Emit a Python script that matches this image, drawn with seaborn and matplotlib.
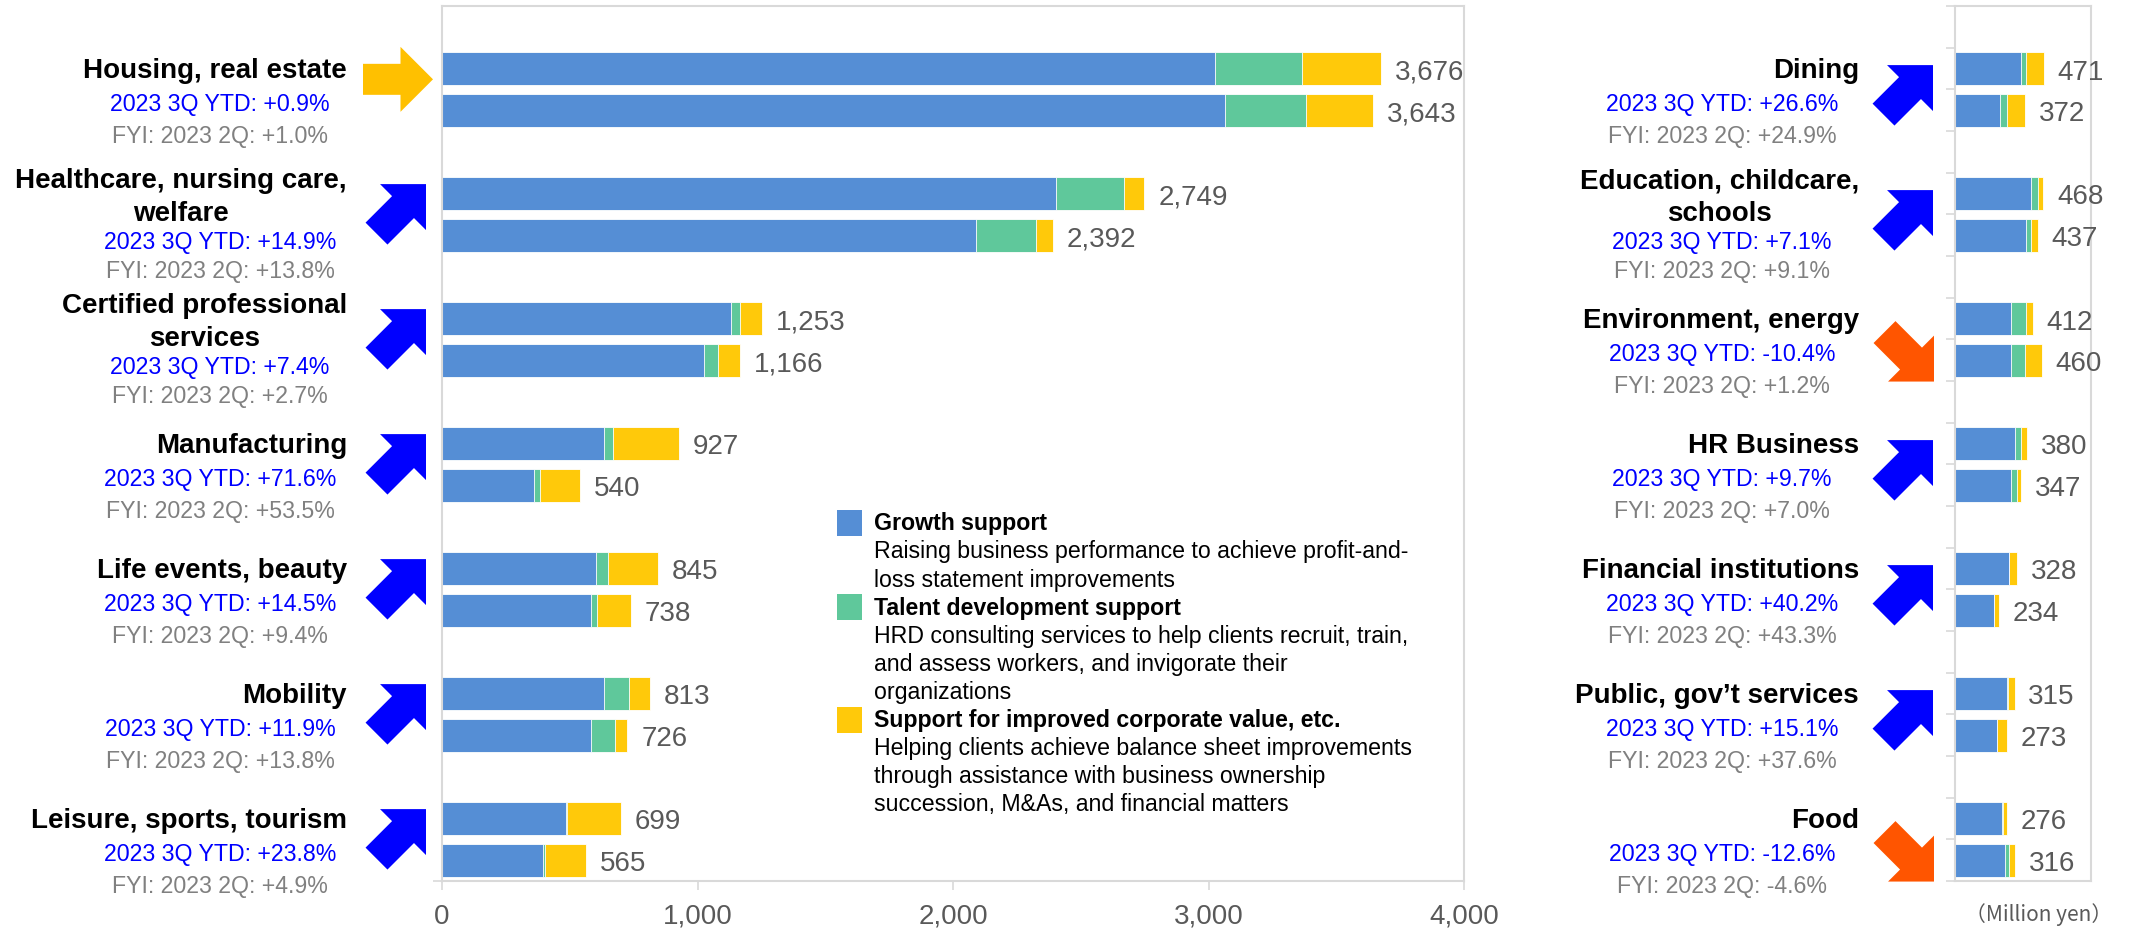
import numpy as np
import pandas as pd
import matplotlib
matplotlib.use("Agg")
import matplotlib.pyplot as plt
import matplotlib.transforms as mtransforms
from matplotlib.patches import Polygon, Rectangle
from matplotlib.ticker import FuncFormatter
import seaborn as sns

# ---------------- data ----------------
series_names = ["Growth support", "Talent development support",
                "Support for improved corporate value, etc."]
series_desc = [
    "Raising business performance to achieve profit-and-\nloss statement improvements",
    "HRD consulting services to help clients recruit, train,\nand assess workers, and invigorate their\norganizations",
    "Helping clients achieve balance sheet improvements\nthrough assistance with business ownership\nsuccession, M&As, and financial matters",
]

left_industries = ["Housing, real estate", "Healthcare, nursing care,\nwelfare",
                   "Certified professional\nservices", "Manufacturing",
                   "Life events, beauty", "Mobility", "Leisure, sports, tourism"]
left_ytd = ["+0.9%", "+14.9%", "+7.4%", "+71.6%", "+14.5%", "+11.9%", "+23.8%"]
left_2q = ["+1.0%", "+13.8%", "+2.7%", "+53.5%", "+9.4%", "+13.8%", "+4.9%"]
left_total_2023 = [3676, 2749, 1253, 927, 845, 813, 699]
left_total_2022 = [3643, 2392, 1166, 540, 738, 726, 565]
left_growth_2023 = [3025, 2403, 1131, 633, 603, 634, 484]
left_talent_2023 = [339, 268, 36, 35, 47, 98, 7]
left_corp_2023 = [312, 78, 86, 259, 195, 81, 208]
left_growth_2022 = [3063, 2089, 1027, 362, 583, 582, 396]
left_talent_2022 = [319, 235, 53, 22, 23, 96, 8]
left_corp_2022 = [261, 68, 86, 156, 132, 48, 161]

right_industries = ["Dining", "Education, childcare,\nschools", "Environment, energy",
                    "HR Business", "Financial institutions", "Public, gov’t services", "Food"]
right_ytd = ["+26.6%", "+7.1%", "-10.4%", "+9.7%", "+40.2%", "+15.1%", "-12.6%"]
right_2q = ["+24.9%", "+9.1%", "+1.2%", "+7.0%", "+43.3%", "+37.6%", "-4.6%"]
right_total_2023 = [471, 468, 412, 380, 328, 315, 276]
right_total_2022 = [372, 437, 460, 347, 234, 273, 316]
right_growth_2023 = [349, 402, 296, 320, 286, 275, 249]
right_talent_2023 = [26, 39, 79, 32, 2, 5, 6]
right_corp_2023 = [96, 27, 37, 28, 40, 35, 21]
right_growth_2022 = [237, 375, 296, 296, 206, 222, 265]
right_talent_2022 = [38, 25, 74, 32, 0, 0, 23]
right_corp_2022 = [97, 37, 90, 19, 28, 51, 28]

left_ticks = [0, 1000, 2000, 3000, 4000]
right_xmax = 720
unit_label = "（Million yen）"
ytd_prefix = "2023 3Q YTD: "
q2_prefix = "FYI: 2023 2Q: "

# ---------------- style ----------------
BLUE, GREEN, YELLOW = "#558ED5", "#5FC89B", "#FFC90A"
FRAME = "#D9D9D9"
LABEL = "#595959"
W, H, DPI = 2130, 929, 100

sns.set_style("white")
plt.rcParams["font.family"] = ["Liberation Sans", "DejaVu Sans"]

fig = plt.figure(figsize=(W / DPI, H / DPI), dpi=DPI)
fig.patch.set_facecolor("white")
ID = mtransforms.IdentityTransform()


def axes_px(x0, x1, top, bottom):
    return fig.add_axes([x0 / W, (H - bottom) / H, (x1 - x0) / W, (bottom - top) / H])


axL = axes_px(442, 1464, 7, 882)
axR = axes_px(1955, 2091, 7, 882)
N_SLOTS = 21


def panel_df(g23, t23, c23, g22, t22, c22, tot23, tot22):
    rows = []
    for i in range(len(g23)):
        rows.append(dict(pos=1 + 3 * i, growth=g23[i], talent=t23[i], corp=c23[i], total=tot23[i]))
        rows.append(dict(pos=2 + 3 * i, growth=g22[i], talent=t22[i], corp=c22[i], total=tot22[i]))
    df = pd.DataFrame(rows)
    df["upto_talent"] = df["growth"] + df["talent"]
    df["upto_corp"] = df["upto_talent"] + df["corp"]
    return df


def draw_bars(ax, df, xmax):
    for col, colr in [("upto_corp", YELLOW), ("upto_talent", GREEN), ("growth", BLUE)]:
        sns.barplot(data=df, x=col, y="pos", orient="h", native_scale=True, width=0.79,
                    color=colr, saturation=1, edgecolor="white", linewidth=0.6,
                    errorbar=None, ax=ax)
    ax.set_xlim(0, xmax)
    ax.set_ylim(N_SLOTS - 0.5, -0.5)
    ax.set_xlabel("")
    ax.set_ylabel("")
    for s in ax.spines.values():
        s.set_visible(True)
        s.set_color(FRAME)
        s.set_linewidth(1.5)
    for _, r in df.iterrows():
        ax.annotate(f"{int(r['total']):,}", xy=(r["upto_corp"], r["pos"]),
                    xytext=(10, -7.2), textcoords="offset points", ha="left",
                    va="baseline", fontsize=20, color=LABEL, annotation_clip=False)


dfL = panel_df(left_growth_2023, left_talent_2023, left_corp_2023,
               left_growth_2022, left_talent_2022, left_corp_2022,
               left_total_2023, left_total_2022)
dfR = panel_df(right_growth_2023, right_talent_2023, right_corp_2023,
               right_growth_2022, right_talent_2022, right_corp_2022,
               right_total_2023, right_total_2022)
draw_bars(axL, dfL, left_ticks[-1])
draw_bars(axR, dfR, right_xmax)

# ticks
axL.set_xticks(left_ticks)
axL.xaxis.set_major_formatter(FuncFormatter(lambda v, p: f"{int(v):,}"))
axL.tick_params(axis="x", bottom=True, length=6.5, width=1.2, color=FRAME,
                labelsize=20, labelcolor=LABEL, pad=9)
axL.set_yticks([N_SLOTS - 0.5])
axL.tick_params(axis="y", left=True, length=6.5, width=1.2, color=FRAME, labelleft=False)
axR.set_xticks([])
axR.set_yticks(np.arange(-0.5, N_SLOTS, 1.0))
axR.tick_params(axis="y", left=True, length=6.5, width=1.2, color=FRAME, labelleft=False)

# ---------------- group annotations ----------------
FS_T, FS_S = 20, 16.7


def cap_half(fs):
    return 0.716 * fs * DPI / 72 / 2


def gtrans(ax, dy_px):
    blend = mtransforms.blended_transform_factory(ID, ax.transData)
    return blend + mtransforms.Affine2D().translate(0, -dy_px)


ARROW = np.array([(0, 0), (-32.5, 32.5), (-32.5, 15.5), (-70, 15.5),
                  (-70, -15.5), (-32.5, -15.5), (-32.5, -32.5)], dtype=float)


def arrow_for(pct):
    v = float(pct.replace("%", ""))
    if v < 0:
        return -45, "#FF5500", "down"
    if v < 1:
        return 0, "#FFC000", "flat"
    return 45, "#0000FF", "up"


renderer = fig.canvas.get_renderer()


def draw_groups(ax, names, ytd, q2, title_rx, sub_cx, arrow_rx, offsets):
    blend = mtransforms.blended_transform_factory(ID, ax.transData)
    for i, name in enumerate(names):
        yc = 1.5 + 3 * i
        lines = name.split("\n")
        if len(lines) == 1:
            t_offs, ob, og = [-22], 12, 44
        else:
            t_offs, ob, og = [-37, -4], 25, 54
        t1 = fig.text(title_rx, yc, lines[0], transform=gtrans(ax, t_offs[0] + cap_half(FS_T)),
                      ha="right", va="baseline", fontsize=FS_T, fontweight="bold", color="black")
        if len(lines) > 1:
            bb = t1.get_window_extent(renderer)
            cx = (bb.x0 + bb.x1) / 2
            fig.text(cx, yc, lines[1], transform=gtrans(ax, t_offs[1] + cap_half(FS_T)),
                     ha="center", va="baseline", fontsize=FS_T, fontweight="bold", color="black")
        fig.text(sub_cx, yc, ytd_prefix + ytd[i], transform=gtrans(ax, ob + cap_half(FS_S)),
                 ha="center", va="baseline", fontsize=FS_S, color="#0000FF")
        fig.text(sub_cx, yc, q2_prefix + q2[i], transform=gtrans(ax, og + cap_half(FS_S)),
                 ha="center", va="baseline", fontsize=FS_S, color="#808080")
        # trend arrow
        ang, colr, kind = arrow_for(ytd[i])
        th = np.deg2rad(ang)
        R = np.array([[np.cos(th), -np.sin(th)], [np.sin(th), np.cos(th)]])
        v = ARROW @ R.T
        rx = arrow_rx[kind]
        v[:, 0] += rx - v[:, 0].max()
        v[:, 1] -= (v[:, 1].max() + v[:, 1].min()) / 2
        v[:, 1] -= offsets[kind]
        poly = Polygon(v, closed=True, facecolor=colr, edgecolor="none",
                       transform=mtransforms.ScaledTranslation(0, yc, blend))
        fig.add_artist(poly)


draw_groups(axL, left_industries, left_ytd, left_2q, 347, 220,
            {"up": 426, "down": 426, "flat": 433}, {"up": 0, "down": 12, "flat": -10})
draw_groups(axR, right_industries, right_ytd, right_2q, 1859, 1722,
            {"up": 1933, "down": 1934, "flat": 1933}, {"up": 6, "down": 12, "flat": -10})

# ---------------- legend ----------------
leg_sq_x, leg_txt_x, leg_y0, pitch = 837, 874, 522, 28.1
line = 0
for name, desc, colr in zip(series_names, series_desc, [BLUE, GREEN, YELLOW]):
    yc = leg_y0 + pitch * line
    fig.add_artist(Rectangle((leg_sq_x, H - (yc + 2) - 13), 25, 26, transform=ID,
                             facecolor=colr, edgecolor="none"))
    fig.text(leg_txt_x, H - (yc + cap_half(FS_S)), name, transform=ID, ha="left",
             va="baseline", fontsize=FS_S, fontweight="bold", color="black")
    line += 1
    for d in desc.split("\n"):
        yc = leg_y0 + pitch * line
        fig.text(leg_txt_x, H - (yc + cap_half(FS_S)), d, transform=ID, ha="left",
                 va="baseline", fontsize=FS_S, color="black")
        line += 1

fig.text(2112, H - 915, unit_label, transform=ID, ha="right", va="center", fontsize=15,
         color=LABEL, family=["Noto Sans CJK JP", "DejaVu Sans"])

fig.savefig("out.png", dpi=DPI, facecolor="white")
